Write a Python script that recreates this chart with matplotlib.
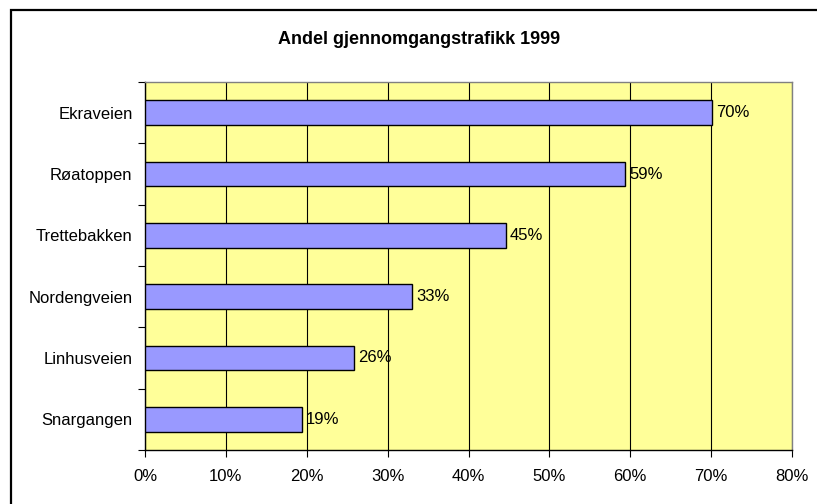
import numpy as np
import matplotlib.pyplot as plt
from matplotlib.patches import Rectangle
from matplotlib.ticker import FuncFormatter

plt.rcParams['font.family'] = ['Liberation Sans', 'DejaVu Sans']

roads = ["Ekraveien", "Røatoppen", "Trettebakken", "Nordengveien", "Linhusveien", "Snargangen"]
shares = [70.1, 59.4, 44.6, 33.0, 25.8, 19.4]
share_labels = ["70%", "59%", "45%", "33%", "26%", "19%"]
xticks = [0, 10, 20, 30, 40, 50, 60, 70, 80]

fig = plt.figure(figsize=(8.17, 5.04), dpi=100)

# outer chart border (clipped on right and bottom like the screenshot)
fig.patches.append(Rectangle((11 / 817, -0.05), 1.2, 1 - 10 / 504 + 0.05,
                             transform=fig.transFigure, fill=False,
                             edgecolor='black', linewidth=1.6))

ax = fig.add_axes([145 / 817, 54 / 504, 647 / 817, 368 / 504])
ax.set_facecolor('#FFFF99')

pos = np.arange(len(roads))
ax.barh(pos, shares, height=0.4, color='#9999FF', edgecolor='black',
        linewidth=1.0, zorder=3)
for p, v, lab in zip(pos, shares, share_labels):
    ax.text(v + 0.5, p, lab, va='center', ha='left', fontsize=12, zorder=4)

ax.set_xlim(0, 80)
ax.set_ylim(len(roads) - 0.5, -0.5)
ax.set_xticks(xticks)
ax.xaxis.set_major_formatter(FuncFormatter(lambda x, _: f"{x:.0f}%"))
ax.grid(axis='x', color='black', linewidth=0.8, zorder=1)

ax.set_yticks(pos)
ax.set_yticklabels(roads)
ax.set_yticks(np.arange(len(roads) + 1) - 0.5, minor=True)
ax.tick_params(axis='y', which='major', length=0, pad=9, labelsize=12)
ax.tick_params(axis='y', which='minor', length=5, width=0.8, direction='out')
ax.tick_params(axis='x', length=5, width=0.8, pad=9, labelsize=12)

for s in ['top', 'right']:
    ax.spines[s].set_color('#808080')
    ax.spines[s].set_linewidth(1.0)
for s in ['left', 'bottom']:
    ax.spines[s].set_color('black')
    ax.spines[s].set_linewidth(1.0)

fig.text(419 / 817, 1 - 40 / 504, "Andel gjennomgangstrafikk 1999",
         ha='center', va='center', fontsize=13, fontweight='bold')

fig.savefig("out.png", dpi=100)
